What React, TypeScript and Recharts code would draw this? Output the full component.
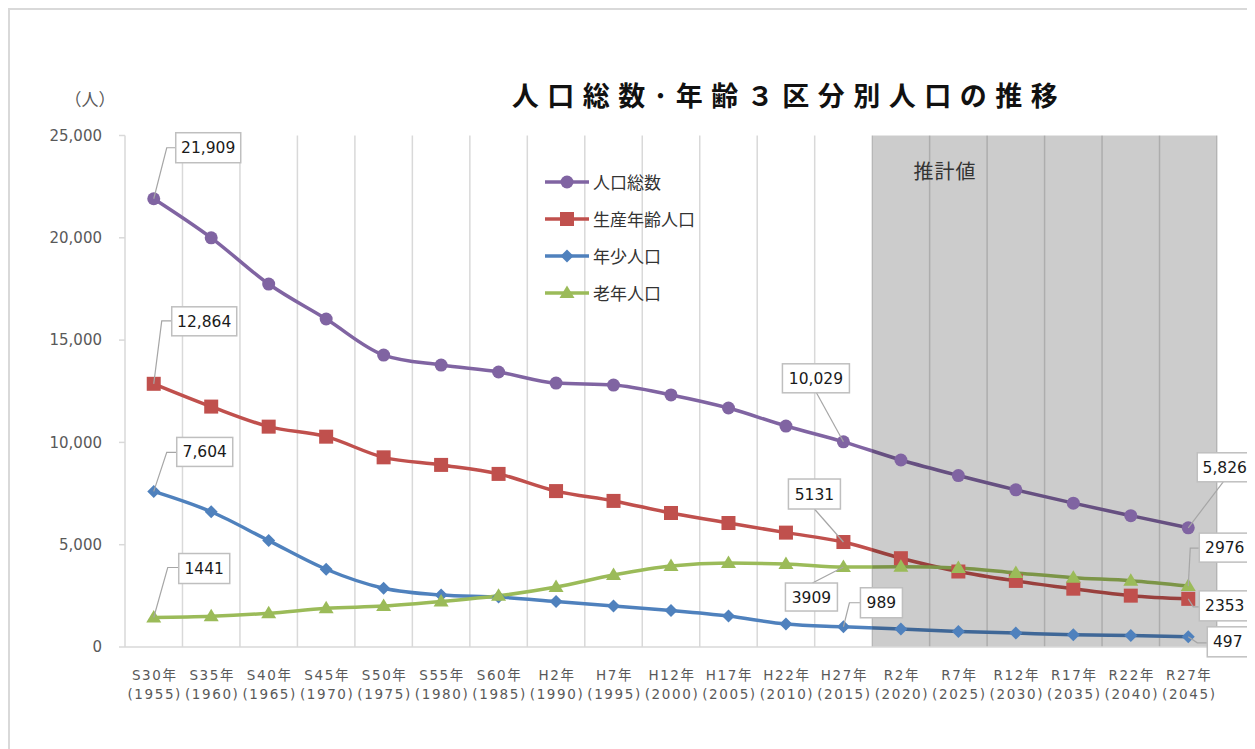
import React from 'react'
import { LineChart, Line, XAxis, YAxis, ReferenceArea, ReferenceLine, LabelList, Legend } from 'recharts'

// 年次ラベル
const eras = ['S30年', 'S35年', 'S40年', 'S45年', 'S50年', 'S55年', 'S60年', 'H2年', 'H7年', 'H12年', 'H17年', 'H22年', 'H27年', 'R2年', 'R7年', 'R12年', 'R17年', 'R22年', 'R27年']
const years = ['1955', '1960', '1965', '1970', '1975', '1980', '1985', '1990', '1995', '2000', '2005', '2010', '2015', '2020', '2025', '2030', '2035', '2040', '2045']

// 人口（人）
const totalPop = [21909, 20000, 17740, 16030, 14270, 13780, 13440, 12900, 12800, 12320, 11680, 10800, 10029, 9140, 8380, 7680, 7030, 6420, 5826]
const workingPop = [12864, 11750, 10770, 10280, 9270, 8900, 8460, 7620, 7140, 6550, 6060, 5590, 5131, 4340, 3690, 3230, 2850, 2510, 2353]
const youngPop = [7604, 6610, 5200, 3800, 2870, 2540, 2440, 2220, 2000, 1780, 1510, 1120, 989, 880, 760, 680, 600, 560, 497]
const elderlyPop = [1441, 1500, 1650, 1890, 2000, 2220, 2500, 2930, 3520, 3960, 4100, 4060, 3909, 3920, 3860, 3620, 3390, 3240, 2976]

const yTicks = [0, 5000, 10000, 15000, 20000, 25000]
const estimateFrom = 13 // R2年から推計値

const rows = eras.map((era, i) => ({
  idx: i,
  era,
  total: totalPop[i],
  working: workingPop[i],
  young: youngPop[i],
  elderly: elderlyPop[i],
}))

const boundaries = eras.map((_, i) => i + 0.5)
const xTicks = eras.map((_, i) => i)

type Shape = 'circle' | 'square' | 'diamond' | 'triangle'

const series = [
  { key: 'total', name: '人口総数', color: '#8064a2', shape: 'circle' as Shape },
  { key: 'working', name: '生産年齢人口', color: '#c0504d', shape: 'square' as Shape },
  { key: 'young', name: '年少人口', color: '#4f81bd', shape: 'diamond' as Shape },
  { key: 'elderly', name: '老年人口', color: '#9bbb59', shape: 'triangle' as Shape },
]

// callout boxes: box = [dx, dy, w, h] from the point, path = leader line
type Callout = { i: number; box: number[]; path: number[][]; comma: boolean }
const callouts: Record<string, Callout[]> = {
  total: [
    { i: 0, box: [22, -66, 65, 30], path: [[0, 0], [13, -51], [22, -51]], comma: true },
    { i: 12, box: [-61, -78, 67, 29], path: [[0, 0], [-27, -49]], comma: true },
    { i: 18, box: [9, -75, 55, 29], path: [[0, 0], [35, -46]], comma: true },
  ],
  working: [
    { i: 0, box: [18, -77, 65, 29], path: [[0, 0], [8, -63], [18, -63]], comma: true },
    { i: 12, box: [-55, -63, 52, 30], path: [[0, 0], [-29, -33]], comma: false },
    { i: 18, box: [11, -8, 51, 30], path: [[0, 0], [5, 8], [11, 8]], comma: false },
  ],
  young: [
    { i: 0, box: [23, -54, 56, 29], path: [[0, 0], [13, -39], [23, -39]], comma: true },
    { i: 12, box: [17, -39, 42, 30], path: [[0, 0], [6, -24], [17, -24]], comma: false },
    { i: 18, box: [19, -10, 41, 30], path: [[0, 0], [9, 6], [19, 6]], comma: false },
  ],
  elderly: [
    { i: 0, box: [25, -64, 51, 30], path: [[0, 0], [14, -50], [25, -50]], comma: false },
    { i: 12, box: [-58, 16, 52, 28], path: [[0, 0], [-31, 16]], comma: false },
    { i: 18, box: [11, -53, 51, 29], path: [[0, 0], [2, -38], [11, -38]], comma: false },
  ],
}

const font = '"DejaVu Sans", "Noto Sans CJK JP", sans-serif'
const jpFont = '"Noto Sans CJK JP", sans-serif'

const drawMarker = (shape: Shape, cx: number, cy: number, color: string, key?: any) => {
  if (shape === 'circle') return <circle key={key} cx={cx} cy={cy} r={6.5} fill={color} />
  if (shape === 'square') return <rect key={key} x={cx - 7} y={cy - 7} width={14} height={14} fill={color} />
  if (shape === 'diamond')
    return <polygon key={key} points={`${cx},${cy - 6.5} ${cx + 6.5},${cy} ${cx},${cy + 6.5} ${cx - 6.5},${cy}`} fill={color} />
  return <polygon key={key} points={`${cx},${cy - 7.5} ${cx + 7.5},${cy + 5} ${cx - 7.5},${cy + 5}`} fill={color} />
}

const makeCallout = (key: string) => (props: any) => {
  const { x, y, index, value } = props
  const spec = callouts[key].find((c) => c.i === index)
  if (!spec || x == null || y == null) return null
  const [bx, by, bw, bh] = spec.box
  const pts = spec.path.map((p) => `${x + p[0]},${y + p[1]}`).join(' ')
  const text = spec.comma ? Number(value).toLocaleString('en-US') : String(value)
  return (
    <g key={`${key}-${index}`}>
      <polyline points={pts} fill="none" stroke="#a6a6a6" strokeWidth={1.2} />
      <rect x={x + bx} y={y + by} width={bw} height={bh} fill="#fff" stroke="#bfbfbf" strokeWidth={1.5} />
      <text x={x + bx + bw / 2} y={y + by + bh / 2 + 5.5} textAnchor="middle" fontSize={15.5} fontFamily={font} fill="#1a1a1a">
        {text}
      </text>
    </g>
  )
}

const EraTick = (props: any) => {
  const { x, y, payload } = props
  const i = payload.value
  return (
    <text x={x} y={y} textAnchor="middle" fill="#595959" fontSize={13.5} fontFamily={font} letterSpacing={1.6}>
      <tspan x={x + 1} dy={33}>{eras[i]}</tspan>
      <tspan x={x + 1} dy={19}>({years[i]})</tspan>
    </text>
  )
}

const LegendBox = () => (
  <div style={{ fontFamily: jpFont, fontSize: 17, color: '#333' }}>
    {series.map((s) => (
      <div key={s.key} style={{ display: 'flex', alignItems: 'center', height: 37 }}>
        <svg width={48} height={20}>
          <line x1={0} y1={10} x2={44} y2={10} stroke={s.color} strokeWidth={3.5} />
          {drawMarker(s.shape, 22, 10, s.color)}
        </svg>
        <span>{s.name}</span>
      </div>
    ))}
  </div>
)

export default function App() {
  return (
    <div
      style={{
        position: 'relative',
        width: 1243,
        height: 745,
        borderTop: '2px solid #d9d9d9',
        borderLeft: '2px solid #d9d9d9',
        borderRight: '2px solid #d9d9d9',
        background: '#fff',
      }}
    >
      <LineChart width={1243} height={739} data={rows} margin={{ top: 125.5, right: 36, bottom: 52, left: 55 }}>
        {boundaries.map((b) => (
          <ReferenceLine key={b} x={b} stroke="#d9d9d9" strokeWidth={1.5} zIndex={-10} />
        ))}
        <XAxis
          type="number"
          dataKey="idx"
          domain={[-0.5, eras.length - 0.5]}
          ticks={xTicks}
          interval={0}
          tick={<EraTick />}
          tickLine={false}
          tickSize={0}
          tickMargin={0}
          height={50}
          axisLine={{ stroke: '#d9d9d9', strokeWidth: 1.5 }}
        />
        <YAxis
          type="number"
          domain={[0, 25000]}
          ticks={yTicks}
          width={60}
          tickFormatter={(v: number) => v.toLocaleString('en-US')}
          tick={{ fill: '#595959', fontSize: 15, fontFamily: font }}
          tickSize={6}
          tickMargin={17}
          tickLine={{ stroke: '#d9d9d9', strokeWidth: 1.5 }}
          axisLine={{ stroke: '#d9d9d9', strokeWidth: 1.5 }}
        />
        <Legend
          layout="vertical"
          align="center"
          verticalAlign="middle"
          content={<LegendBox />}
          wrapperStyle={{ left: 535, top: 153, width: 220 }}
        />
        {series.map((s) => (
          <Line
            key={s.key}
            type="monotone"
            dataKey={s.key}
            name={s.name}
            stroke={s.color}
            strokeWidth={3.5}
            dot={(p: any) => drawMarker(s.shape, p.cx, p.cy, s.color, p.index)}
            activeDot={false}
            isAnimationActive={false}
          />
        ))}
        <ReferenceArea
          x1={estimateFrom - 0.5}
          x2={eras.length - 0.5}
          fill="#000"
          fillOpacity={0.2}
          stroke="none"
          zIndex={450}
        />
        {series.map((s) => (
          <Line
            key={`${s.key}-lbl`}
            type="monotone"
            dataKey={s.key}
            stroke="none"
            dot={false}
            activeDot={false}
            legendType="none"
            isAnimationActive={false}
          >
            <LabelList dataKey={s.key} content={makeCallout(s.key)} />
          </Line>
        ))}
      </LineChart>
      <svg width={1243} height={739} style={{ position: 'absolute', left: 0, top: 0, pointerEvents: 'none' }}>
        <text x={80} y={96} textAnchor="middle" fontSize={17} fontFamily={jpFont} fill="#595959">
          （人）
        </text>
        <text x={779} y={96} textAnchor="middle" fontSize={27} fontWeight={700} fontFamily={jpFont} fill="#111" letterSpacing={8.5}>
          人口総数･年齢３区分別人口の推移
        </text>
        <text x={935} y={169} textAnchor="middle" fontSize={20} fontFamily={jpFont} fill="#333" letterSpacing={1}>
          推計値
        </text>
      </svg>
    </div>
  )
}
